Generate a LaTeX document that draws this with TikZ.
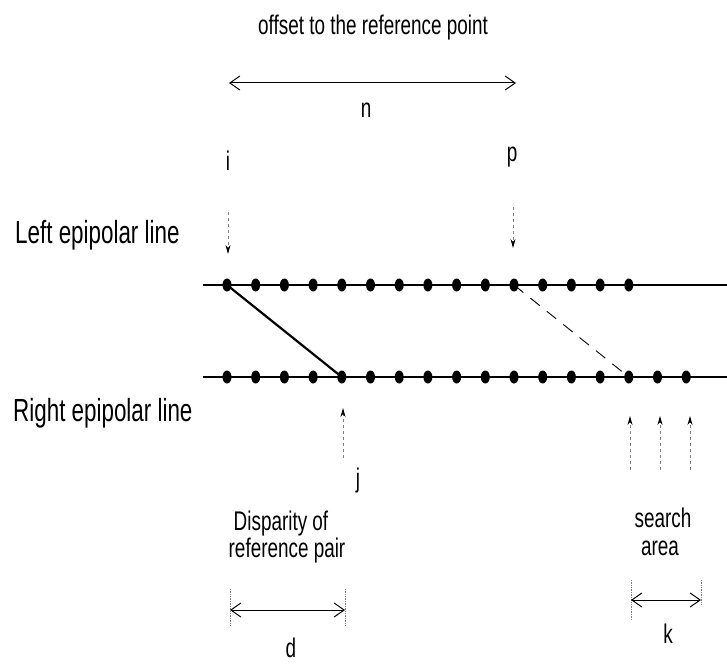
\documentclass[tikz,border=0pt]{standalone}
\usepackage{fontspec}
\setmainfont{Liberation Sans}[FakeStretch=0.7]
\usetikzlibrary{arrows.meta,shapes.geometric}
\begin{document}
\begin{tikzpicture}[x=1pt,y=-1pt,
  epiline/.style={line width=1.1pt},
  pixel/.style={ellipse,fill=black,minimum width=9pt,minimum height=13pt,inner sep=0pt},
  match/.style={line width=2.2pt},
  guess/.style={line width=0.9pt,dash pattern=on 12pt off 9pt},
  dimarrow/.style={line width=1pt,{Straight Barb[length=10pt,width=14pt]}-{Straight Barb[length=10pt,width=14pt]}},
  pointer/.style={line width=0.8pt,gray,dash pattern=on 3pt off 3pt,-{Stealth[length=9pt,width=5pt,black]}},
  tickmark/.style={line width=0.7pt,gray,densely dotted},
  lbl/.style={inner sep=0pt,font=\fontsize{27}{30}\selectfont},
  biglbl/.style={inner sep=0pt,font=\fontsize{32}{36}\selectfont}]
\useasboundingbox (0,0) rectangle (727,663);

% epipolar lines
\coordinate (tl) at (203,285);
\coordinate (tr) at (727,285);
\coordinate (bl) at (203,377);
\coordinate (br) at (727,377);
\draw[epiline] (tl) -- (tr);
\draw[epiline] (bl) -- (br);

% pixels on both lines
\foreach \k in {1,...,15} \node[pixel] (t\k) at ({227+28.7*(\k-1)},285) {};
\foreach \k in {1,...,17} \node[pixel] (b\k) at ({227+28.7*(\k-1)},377) {};

% reference pair and candidate correspondence
\draw[match] (t1.center) -- (b5.center);
\draw[guess] (t11.center) -- (b15.center);

% offset n
\node[lbl,anchor=base] (title) at (373,35) {offset to the reference point};
\coordinate (nL) at (229,83);
\coordinate (nR) at (516,83);
\draw[dimarrow] (nL) -- (nR);
\node[lbl,anchor=base] (n) at (366,118) {n};

% pixel labels on the left line
\node[lbl,anchor=base] (i) at (228,171) {i};
\node[lbl,anchor=base] (p) at (512,161) {p};
\coordinate (iA) at (228,212);
\coordinate (iB) at (228,254);
\coordinate (pA) at (513,207);
\coordinate (pB) at (513,248);
\draw[pointer] (iA) -- (iB);
\draw[pointer] (pA) -- (pB);

% line names
\node[biglbl,anchor=base west] (left) at (15,243) {Left epipolar line};
\node[biglbl,anchor=base west] (right) at (13,421) {Right epipolar line};

% pixel j on the right line
\coordinate (jA) at (343,458);
\coordinate (jB) at (343,408);
\draw[pointer] (jA) -- (jB);
\node[lbl,anchor=base] (j) at (358,487) {j};

% disparity d
\node[lbl,anchor=base] (disp1) at (281,530) {Disparity of};
\node[lbl,anchor=base] (disp2) at (287,557) {reference pair};
\coordinate (dL) at (230,610);
\coordinate (dR) at (345,610);
\coordinate (dLt) at (230,589);
\coordinate (dLb) at (230,626);
\coordinate (dRt) at (345,589);
\coordinate (dRb) at (345,626);
\draw[tickmark] (dLt) -- (dLb);
\draw[tickmark] (dRt) -- (dRb);
\draw[dimarrow] (dL) -- (dR);
\node[lbl,anchor=base] (d) at (291,657) {d};

% search area
\foreach \x/\nm in {630/sa,660/sb,690/sc} {
  \coordinate (\nm A) at (\x,470);
  \coordinate (\nm B) at (\x,416);
  \draw[pointer] (\nm A) -- (\nm B);
}
\node[lbl,anchor=base] (search) at (663,527) {search};
\node[lbl,anchor=base] (area) at (660,555) {area};
\coordinate (kL) at (631,600);
\coordinate (kR) at (701,600);
\coordinate (kLt) at (631,580);
\coordinate (kLb) at (631,620);
\coordinate (kRt) at (701,580);
\coordinate (kRb) at (701,605);
\draw[tickmark] (kLt) -- (kLb);
\draw[tickmark] (kRt) -- (kRb);
\draw[dimarrow] (kL) -- (kR);
\node[lbl,anchor=base] (k) at (668,643) {k};
\end{tikzpicture}
\end{document}
